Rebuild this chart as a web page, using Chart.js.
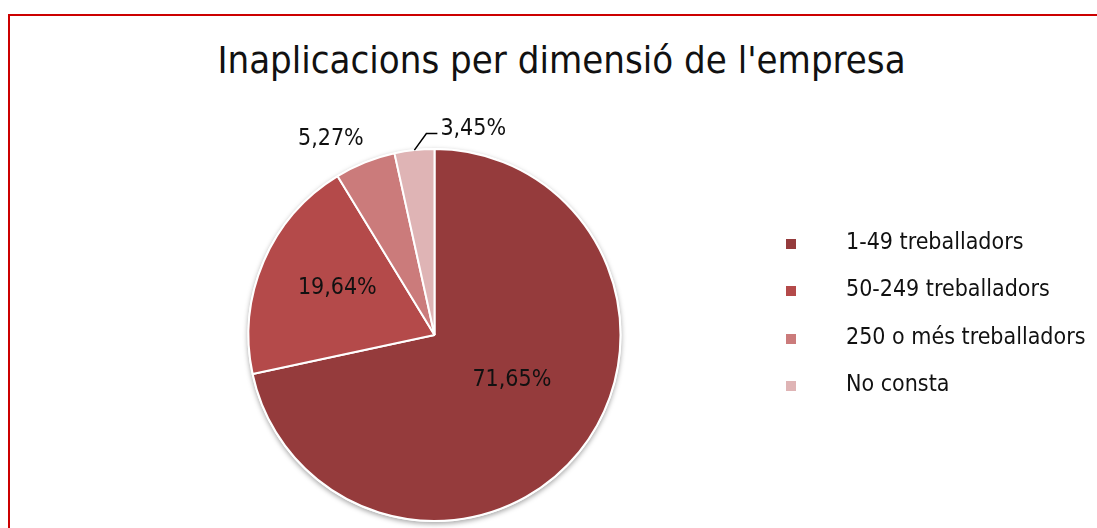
<!DOCTYPE html>
<html>
<head>
<meta charset="utf-8">
<script src="https://cdn.jsdelivr.net/npm/chart.js@4"></script>
<style>
  html, body { margin: 0; padding: 0; background: #fff; }
  body { width: 1097px; height: 528px; position: relative; overflow: hidden; font-family: "DejaVu Sans Condensed", sans-serif; }
  #frame { position: absolute; left: 8px; top: 14px; width: 1200px; height: 600px; border-left: 2px solid #cc0000; border-top: 2px solid #cc0000; }
  #title { position: absolute; left: 0; width: 1123px; top: 38px; text-align: center; font-size: 38px; color: #111; }
  #wrap { position: absolute; left: 0; top: 0; width: 1097px; height: 528px; }
  #legend { position: absolute; left: 786px; top: 228px; font-size: 23px; color: #111; }
  .item { height: 47.3px; display: flex; align-items: flex-start; }
  .box { width: 10px; height: 10px; margin-top: 11px; margin-right: 50px; }
</style>
</head>
<body>
<div id="frame"></div>
<div id="title">Inaplicacions per dimensió de l'empresa</div>
<div id="wrap"><canvas id="pie"></canvas></div>
<div id="legend"></div>
<script>
const categories = ["1-49 treballadors", "50-249 treballadors", "250 o més treballadors", "No consta"];
const shares = [71.65, 19.64, 5.27, 3.45];
const shareLabels = ["71,65%", "19,64%", "5,27%", "3,45%"];
const colors = ["#953b3c", "#b44a4a", "#cb7b7b", "#dfb4b5"];

// legend
const legend = document.getElementById("legend");
categories.forEach((name, i) => {
    const row = document.createElement("div");
    row.className = "item";
    const box = document.createElement("div");
    box.className = "box";
    box.style.background = colors[i];
    const txt = document.createElement("span");
    txt.textContent = name;
    row.appendChild(box);
    row.appendChild(txt);
    legend.appendChild(row);
});

// where each label sits relative to its slice (radius factor, angle shift in degrees)
const placement = [
    { r: 0.48, da: -9 },
    { r: 0.58, da: 2.5 },
    { r: 1.19, da: -6 },
    { r: 1.13, da: 17, leader: true }
];

// soft shadow under the whole pie
const shadowPlugin = {
    id: "pieShadow",
    beforeDatasetsDraw(chart) {
        const arc = chart.getDatasetMeta(0).data[0];
        if (!arc) return;
        const p = arc.getProps(["x", "y", "outerRadius"], true);
        const ctx = chart.ctx;
        ctx.save();
        ctx.shadowColor = "rgba(0,0,0,0.35)";
        ctx.shadowBlur = 5;
        ctx.shadowOffsetY = 2;
        ctx.fillStyle = "#ffffff";
        ctx.beginPath();
        ctx.arc(p.x, p.y, p.outerRadius + 1, 0, Math.PI * 2);
        ctx.fill();
        ctx.restore();
    }
};

const labelPlugin = {
    id: "sliceLabels",
    afterDatasetsDraw(chart) {
        const ctx = chart.ctx;
        const arcs = chart.getDatasetMeta(0).data;
        ctx.save();
        ctx.font = '23px "DejaVu Sans Condensed", sans-serif';
        ctx.fillStyle = "#111";
        ctx.textAlign = "center";
        ctx.textBaseline = "middle";
        arcs.forEach((arc, i) => {
            const p = arc.getProps(["x", "y", "startAngle", "endAngle", "outerRadius"], true);
            const mid = (p.startAngle + p.endAngle) / 2;
            const pl = placement[i];
            const a = mid + pl.da * Math.PI / 180;
            const rr = p.outerRadius * pl.r;
            let lx = p.x + Math.cos(a) * rr;
            let ly = p.y + Math.sin(a) * rr;
            if (pl.leader) {
                const ex = p.x + Math.cos(mid) * p.outerRadius;
                const ey = p.y + Math.sin(mid) * p.outerRadius;
                const kx = ex + 12;
                const ky = ly + 5;
                ctx.strokeStyle = "#000";
                ctx.lineWidth = 1.5;
                ctx.beginPath();
                ctx.moveTo(ex, ey);
                ctx.lineTo(kx, ky);
                ctx.lineTo(kx + 11, ky);
                ctx.stroke();
                ctx.textAlign = "left";
                ctx.fillText(shareLabels[i], kx + 14, ly);
                ctx.textAlign = "center";
            } else {
                ctx.fillText(shareLabels[i], lx, ly);
            }
        });
        ctx.restore();
    }
};

new Chart(document.getElementById("pie"), {
    type: "pie",
    data: {
        labels: categories,
        datasets: [{
            data: shares,
            backgroundColor: colors,
            borderColor: "#ffffff",
            borderWidth: 2
        }]
    },
    options: {
        responsive: true,
        maintainAspectRatio: false,
        animation: false,
        layout: { padding: { left: 247.5, right: 475.5, top: 148, bottom: 6 } },
        plugins: {
            legend: { display: false },
            tooltip: { enabled: false }
        }
    },
    plugins: [shadowPlugin, labelPlugin]
});
</script>
</body>
</html>
